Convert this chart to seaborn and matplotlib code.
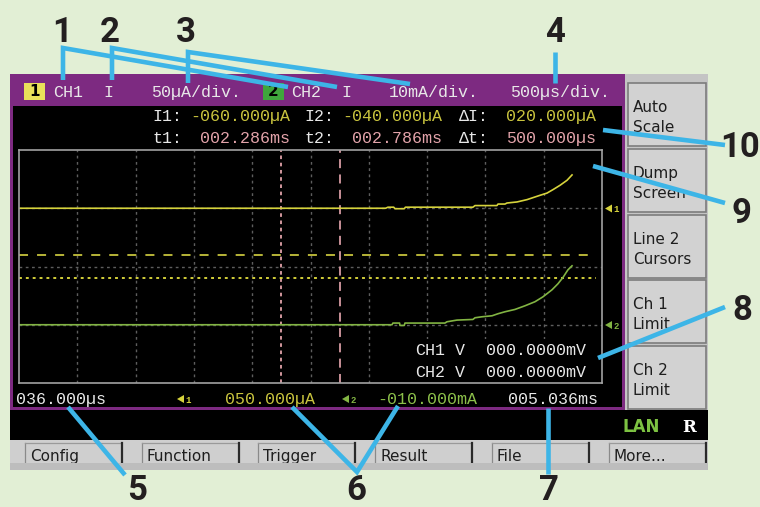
import matplotlib
matplotlib.use("Agg")
import matplotlib.pyplot as plt
from matplotlib.patches import Rectangle, Polygon
import pandas as pd
import seaborn as sns

# ---------------- instrument settings ----------------
ch1_scale_uA = 50.0        # µA/div
ch1_offset_uA = 50.0
ch2_scale_mA = 10.0        # mA/div
ch2_offset_mA = -10.0
time_per_div_us = 500.0
t_start_ms = 0.036
t_end_ms = 5.036

cursor_I1_uA = -60.0
cursor_I2_uA = -40.0
cursor_t1_ms = 2.286
cursor_t2_ms = 2.786

readout_ch1_mV = 0.0
readout_ch2_mV = 0.0

# ---------------- captured traces ----------------
ch1_time_ms = [0.036, 3.180, 3.200, 3.250, 3.260, 3.340, 3.350, 3.929, 3.947,
               4.135, 4.144, 4.204, 4.221, 4.307, 4.393, 4.444, 4.504, 4.564,
               4.616, 4.676, 4.736, 4.779]
ch1_current_uA = [0.0, 0.0, 0.9, 0.9, -0.4, -0.4, 0.9, 0.9, 2.3,
                  2.3, 3.6, 3.6, 4.5, 5.4, 7.4, 9.1, 11.1, 13.0,
                  16.0, 19.7, 24.0, 28.6]

ch2_time_ms = [0.036, 3.235, 3.243, 3.300, 3.303, 3.340, 3.346, 3.689, 3.706,
               3.792, 3.929, 3.947, 4.007, 4.093, 4.144, 4.204, 4.290, 4.376,
               4.461, 4.530, 4.607, 4.658, 4.701, 4.744, 4.779]
ch2_current_mA = [0.0, 0.0, 0.29, 0.29, -0.12, -0.12, 0.29, 0.29, 0.51,
                  0.80, 0.91, 1.20, 1.37, 1.54, 1.89, 2.23, 2.63, 3.26,
                  3.95, 4.80, 6.00, 7.03, 8.11, 9.43, 10.12]

menu_buttons = ["Config", "Function", "Trigger", "Result", "File", "More..."]
side_buttons = [("Auto", "Scale"), ("Dump", "Screen"), ("Line 2", "Cursors"),
                ("Ch 1", "Limit"), ("Ch 2", "Limit")]

# ---------------- colours ----------------
PAGE = "#e2efd5"
PURPLE = "#7d2a81"
PANEL = "#c4c4c4"
BUTTON = "#d2d2d2"
WHITE_TXT = "#e8e8e8"
YELLOW = "#d6d33c"
YELLOW_TXT = "#c9c43e"
GREEN = "#82b443"
GREEN_TXT = "#8cc04a"
PINK = "#e3a3aa"
BLUE = "#3db5e7"
NUM = "#231f20"

MONO = ["Liberation Mono", "DejaVu Sans Mono"]
SANS = ["DejaVu Sans"]
NUMFONT = ["Liberation Sans Narrow", "Roboto", "DejaVu Sans"]

W, H = 760, 507
fig = plt.figure(figsize=(W / 100, H / 100), dpi=100)
fig.patch.set_facecolor(PAGE)


def px_axes(z):
    a = fig.add_axes([0, 0, 1, 1], zorder=z)
    a.set_xlim(0, W)
    a.set_ylim(H, 0)
    a.axis("off")
    return a


base = px_axes(0)

# instrument body
base.add_patch(Rectangle((10, 74), 615, 336, fc=PURPLE, ec="none"))
base.add_patch(Rectangle((13, 106), 609, 301, fc="black", ec="none"))
base.add_patch(Rectangle((10, 410), 698, 30, fc="black", ec="none"))
base.add_patch(Rectangle((625, 74), 83, 336, fc=PANEL, ec="none"))

# side soft-keys
tops = [83, 149, 215, 280, 346]
for (l1, l2), top in zip(side_buttons, tops):
    base.add_patch(Rectangle((628, top), 78, 63, fc=BUTTON, ec="#7c7c7c", lw=1.2))
    base.text(633, top + 29, l1, fontsize=11, family=SANS, color="#1e1e1e", va="baseline")
    base.text(633, top + 49, l2, fontsize=11, family=SANS, color="#1e1e1e", va="baseline")

# bottom menu bar
base.add_patch(Rectangle((10, 440), 698, 23, fc="#cfcfcf", ec="none", zorder=1))
step = 116.7
for i, label in enumerate(menu_buttons):
    x0 = 25 + step * i
    base.plot([x0, x0], [443, 463], color="#8a8a8a", lw=0.9, zorder=2)
    base.plot([x0, x0 + 96], [443, 443], color="#9a9a9a", lw=0.9, zorder=2)
    base.plot([x0 + 97, x0 + 97], [443, 463], color="#2a2a2a", lw=1.6, zorder=2)
    base.text(x0 + 5, 461, label, fontsize=11, family=SANS, color="#1e1e1e",
              va="baseline", zorder=3)
base.add_patch(Rectangle((10, 463), 698, 7, fc="#bdbdbd", ec="none", zorder=5))

# status line
base.text(623, 432, "LAN", fontsize=12, family=SANS, weight="bold", color="#7dc242", va="baseline")
base.text(682, 432, "R", fontsize=12, family=["DejaVu Serif"], weight="bold", color="white", va="baseline")

# header
hb = 97
base.add_patch(Rectangle((24, 83), 21, 17, fc="#e9e15a", ec="none"))
base.text(34.5, 92, "1", fontsize=11, family=SANS, weight="bold", color="black", ha="center", va="center")
base.add_patch(Rectangle((263, 83), 21, 17, fc="#3fa63c", ec="none"))
base.text(273.5, 92, "2", fontsize=11, family=SANS, weight="bold", color="black", ha="center", va="center")
hdr = [(53, "CH1"), (103, "I"), (151, f"{ch1_scale_uA:.0f}µA/div."),
       (291, "CH2"), (341, "I"), (389, f"{ch2_scale_mA:.0f}mA/div."),
       (510, f"{time_per_div_us:.0f}µs/div.")]
for x, s in hdr:
    base.text(x, hb, s, fontsize=12, family=MONO, color=WHITE_TXT, va="baseline")

# cursor readouts
dI = cursor_I2_uA - cursor_I1_uA
dt_us = (cursor_t2_ms - cursor_t1_ms) * 1000
rows = [
    (121, [(152, "I1:"), (304, "I2:"), (459, "ΔI:")],
     [(290, f"{cursor_I1_uA:08.3f}µA"), (442, f"{cursor_I2_uA:08.3f}µA"), (596, f"{dI:07.3f}µA")],
     YELLOW_TXT),
    (143, [(152, "t1:"), (304, "t2:"), (459, "Δt:")],
     [(290, f"{cursor_t1_ms:07.3f}ms"), (442, f"{cursor_t2_ms:07.3f}ms"), (596, f"{dt_us:07.3f}µs")],
     PINK),
]
for yb, labels, values, col in rows:
    for x, s in labels:
        base.text(x, yb, s, fontsize=12, family=MONO, color=WHITE_TXT, va="baseline")
    for x, s in values:
        base.text(x, yb, s, fontsize=12, family=MONO, color=col, va="baseline", ha="right")

# bottom readout line
bb = 404
base.text(16, bb, f"{t_start_ms * 1000:07.3f}µs", fontsize=12, family=MONO, color=WHITE_TXT, va="baseline")
base.text(225, bb, f"{ch1_offset_uA:07.3f}µA", fontsize=12, family=MONO, color=YELLOW_TXT, va="baseline")
base.text(477, bb, f"{ch2_offset_mA:08.3f}mA", fontsize=12, family=MONO, color=GREEN_TXT, va="baseline", ha="right")
base.text(508, bb, f"{t_end_ms:07.3f}ms", fontsize=12, family=MONO, color=WHITE_TXT, va="baseline")


def ref_marker(a, x, y, digit, col):
    a.add_patch(Polygon([(x, y), (x + 7, y - 4), (x + 7, y + 4)], closed=True, fc=col, ec="none"))
    a.text(x + 8.5, y + 4, digit, fontsize=6.5, family=MONO, color=col, va="baseline", weight="bold")


ref_marker(base, 177, 399, "1", YELLOW)
ref_marker(base, 342, 399, "2", GREEN)

# ---------------- scope graticule ----------------
L, T, R, B = 19, 150, 602, 383
ax = fig.add_axes([L / W, (H - B) / H, (R - L) / W, (B - T) / H], zorder=1)
ax.set_facecolor("black")


def to_div_ch1(i_uA):
    return (ch1_offset_uA + i_uA) / ch1_scale_uA


def to_div_ch2(i_mA):
    return (ch2_offset_mA + i_mA) / ch2_scale_mA


df = pd.concat([
    pd.DataFrame({"time_ms": ch1_time_ms,
                  "div": [to_div_ch1(v) for v in ch1_current_uA],
                  "channel": "CH1"}),
    pd.DataFrame({"time_ms": ch2_time_ms,
                  "div": [to_div_ch2(v) for v in ch2_current_mA],
                  "channel": "CH2"}),
], ignore_index=True)

ax.set_axisbelow(True)
div_ms = time_per_div_us / 1000
ax.set_xticks([t_start_ms + k * div_ms for k in range(1, 10)])
ax.set_yticks([-1, 0, 1])
ax.grid(True, color="#5e5e5e", lw=1.0, linestyle=(0, (2, 2.5)))
ax.tick_params(length=0, labelbottom=False, labelleft=False)
for s in ax.spines.values():
    s.set_color("#a2a2a2")
    s.set_linewidth(1.2)

# readout panel inside graticule
ax.add_patch(Rectangle((0.665, 0.0), 0.335, 0.19, transform=ax.transAxes, fc="black", ec="none", zorder=0.8))

# cursors
ax.axvline(cursor_t1_ms, color=PINK, lw=1.3, linestyle=(0, (2, 2)), zorder=1)
ax.axvline(cursor_t2_ms, color="#d89ca3", lw=1.3, linestyle=(0, (5, 3.5)), zorder=1)
ax.axhline(to_div_ch1(cursor_I2_uA), xmax=0.99, color="#c6c23c", lw=1.3, linestyle=(0, (5, 5)), zorder=1)
ax.axhline(to_div_ch1(cursor_I1_uA), xmax=0.99, color="#e2de3e", lw=1.3, linestyle=(0, (1.6, 2.2)), zorder=1)

sns.lineplot(data=df, x="time_ms", y="div", hue="channel",
             palette={"CH1": YELLOW, "CH2": GREEN}, estimator=None, sort=False,
             lw=1.2, legend=False, ax=ax, zorder=2)
ax.set_xlim(t_start_ms, t_end_ms)
ax.set_ylim(-2, 2)
ax.set_xlabel("")
ax.set_ylabel("")

# ---------------- overlay: readouts, markers, callouts ----------------
top = px_axes(2)
for yb, name, val in [(355, "CH1", readout_ch1_mV), (377, "CH2", readout_ch2_mV)]:
    top.text(415, yb, name, fontsize=12, family=MONO, color=WHITE_TXT, va="baseline")
    top.text(455, yb, "V", fontsize=12, family=MONO, color=WHITE_TXT, va="baseline")
    top.text(486, yb, f"{val:08.4f}mV", fontsize=12, family=MONO, color=WHITE_TXT, va="baseline")

ref_marker(top, 605, 208.5, "1", YELLOW)
ref_marker(top, 605, 325, "2", GREEN)

callouts = [
    [(63, 80), (63, 48), (288, 87)],
    [(112, 80), (112, 48), (337, 87)],
    [(188, 83), (188, 52), (410, 84)],
    [(555, 83), (555, 52)],
    [(603, 130), (725, 145)],
    [(593, 166), (725, 203)],
    [(598, 358), (725, 307)],
    [(548, 408), (548, 474)],
    [(292, 407), (357, 472), (398, 406)],
    [(68, 407), (125, 475)],
]
for pts in callouts:
    xs, ys = zip(*pts)
    top.plot(xs, ys, color=BLUE, lw=3.3, solid_joinstyle="miter", solid_capstyle="butt")

numbers = [("1", 62, 42), ("2", 110, 42), ("3", 186, 42), ("4", 555, 42),
           ("10", 740, 157), ("9", 741, 223), ("8", 742, 320)]
for s, x, y in numbers:
    top.text(x, y, s, fontsize=25, family=NUMFONT, weight="bold", color=NUM,
             ha="center", va="baseline")
# labels along the lower edge sit flush with the bottom of the figure
for s, x in [("7", 549), ("6", 356), ("5", 137)]:
    top.text(x, 506.5, s, fontsize=25, family=NUMFONT, weight="bold", color=NUM,
             ha="center", va="bottom")

fig.savefig("out.png", dpi=100, facecolor=PAGE)
